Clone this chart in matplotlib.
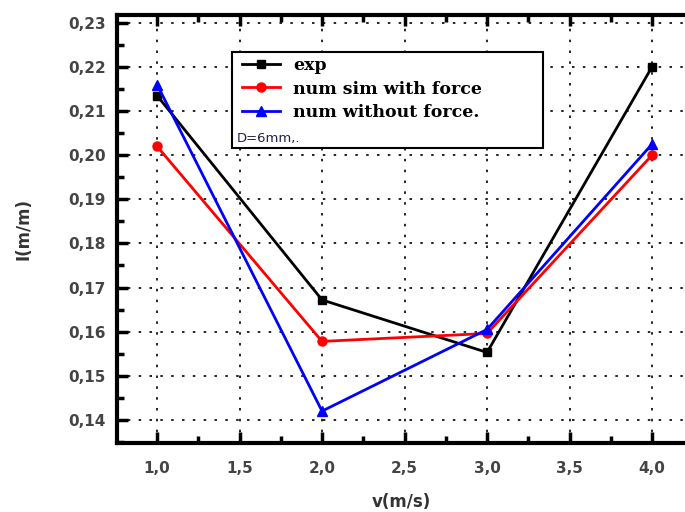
import matplotlib.pyplot as plt
import numpy as np
from matplotlib.ticker import MultipleLocator, FuncFormatter
from matplotlib.patches import Rectangle

v = [1.0, 2.0, 3.0, 4.0]
exp_vals = [0.2135, 0.1672, 0.1553, 0.2200]
sim_force = [0.2020, 0.1578, 0.1596, 0.2000]
sim_noforce = [0.2160, 0.1420, 0.1605, 0.2025]
labels = ["exp", "num sim with force", "num without force."]

fig = plt.figure(figsize=(6.85, 5.12), dpi=100)
ax = fig.add_axes([0.171, 0.135, 0.829, 0.836])

ax.plot(v, exp_vals, color="black", marker="s", ms=6, lw=2, label=labels[0])
ax.plot(v, sim_force, color="red", marker="o", ms=6.5, lw=2, label=labels[1])
ax.plot(v, sim_noforce, color="blue", marker="^", ms=7.5, lw=2, label=labels[2])

ax.set_xlim(0.758, 4.2)
ax.set_ylim(0.1348, 0.2318)

ax.xaxis.set_major_locator(MultipleLocator(0.5))
ax.xaxis.set_minor_locator(MultipleLocator(0.25))
ax.yaxis.set_major_locator(MultipleLocator(0.01))
ax.yaxis.set_minor_locator(MultipleLocator(0.005))
ax.xaxis.set_major_formatter(FuncFormatter(lambda x, p: f"{x:.1f}".replace(".", ",")))
ax.yaxis.set_major_formatter(FuncFormatter(lambda y, p: f"{y:.2f}".replace(".", ",")))

ax.grid(True, which="major", color="black", linestyle=(0, (1.5, 5)), lw=1.2)

for s in ["left", "bottom", "top"]:
    ax.spines[s].set_linewidth(3)
ax.spines["right"].set_visible(False)

ax.tick_params(which="major", direction="in", length=8, width=2.5, top=True, right=False,
               labelsize=11, labelcolor="#444444", pad=8)
ax.tick_params(which="minor", direction="in", length=5, width=2.5, top=True, right=False)
for lab in ax.get_xticklabels() + ax.get_yticklabels():
    lab.set_fontweight("bold")
ax.tick_params(axis="x", pad=13)

ax.set_xlabel("v(m/s)", fontsize=12, fontweight="bold", color="#333333", labelpad=12)
ax.set_ylabel("I(m/m)", fontsize=12, fontweight="bold", color="#333333", labelpad=26)

ax.add_patch(Rectangle((0.2025, 0.689), 0.548, 0.225, transform=ax.transAxes,
                       facecolor="white", edgecolor="black", lw=1.5, zorder=4))
leg = ax.legend(loc="upper left", bbox_to_anchor=(0.198, 0.93), frameon=False,
                prop={"family": "DejaVu Serif", "weight": "bold", "size": 12.5},
                handlelength=2.2, handletextpad=0.75, labelspacing=0.38, borderpad=0.2)
leg.set_zorder(5)
ax.text(0.21, 0.703, "D=6mm,.", transform=ax.transAxes, fontsize=9.5, color="#222244",
        family="DejaVu Sans", zorder=6)

plt.savefig("out.png", dpi=100)
